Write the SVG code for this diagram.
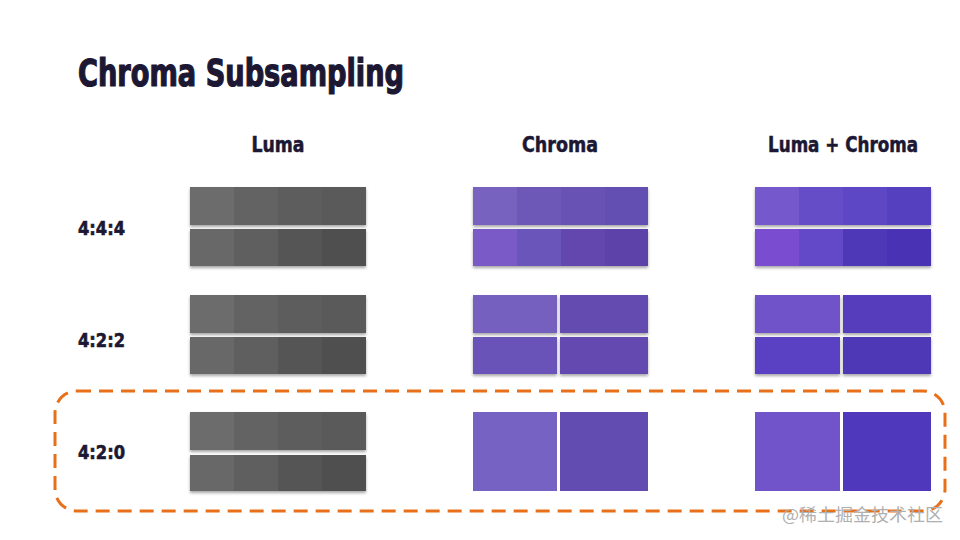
<svg xmlns="http://www.w3.org/2000/svg" width="960" height="540" viewBox="0 0 960 540">
<defs>
<filter id="sh" x="-5%" y="-20%" width="110%" height="150%">
<feDropShadow dx="0" dy="2" stdDeviation="1.5" flood-color="#000" flood-opacity="0.35"/>
</filter>
<style>
.t{font-family:"DejaVu Sans Condensed","DejaVu Sans","Liberation Sans",sans-serif;font-weight:bold;fill:#1c1733;stroke:#1c1733;font-stretch:condensed}
.h{font-size:21px;text-anchor:middle;stroke-width:0.5}
.r{font-size:20px;stroke-width:0.6}
.wm{font-family:"Noto Sans CJK SC","Noto Sans",sans-serif;font-size:17px;fill:#b0b0b0}
</style>
</defs>
<rect width="960" height="540" fill="#ffffff"/>
<text id="title" class="t" x="78" y="86" font-size="37" stroke-width="1.2" textLength="326" lengthAdjust="spacingAndGlyphs">Chroma Subsampling</text>
<g id="headers">
<text class="t h" x="278" y="152" textLength="53" lengthAdjust="spacingAndGlyphs">Luma</text>
<text class="t h" x="560" y="152" textLength="76" lengthAdjust="spacingAndGlyphs">Chroma</text>
<text class="t h" x="843" y="152" textLength="150" lengthAdjust="spacingAndGlyphs">Luma + Chroma</text>
</g>
<g id="labels">
<text class="t r" x="78" y="235" textLength="47" lengthAdjust="spacingAndGlyphs">4:4:4</text>
<text class="t r" x="78" y="347" textLength="47" lengthAdjust="spacingAndGlyphs">4:2:2</text>
<text class="t r" x="78" y="459" textLength="47" lengthAdjust="spacingAndGlyphs">4:2:0</text>
</g>
<!-- Row 4:4:4 -->
<g id="luma444" filter="url(#sh)">
<rect x="190" y="187" width="44" height="38" fill="#6c6c6c"/><rect x="234" y="187" width="44" height="38" fill="#636363"/><rect x="278" y="187" width="44" height="38" fill="#5d5d5d"/><rect x="322" y="187" width="44" height="38" fill="#5a5a5a"/>
<rect x="190" y="229" width="44" height="37" fill="#676767"/><rect x="234" y="229" width="44" height="37" fill="#5f5f5f"/><rect x="278" y="229" width="44" height="37" fill="#555555"/><rect x="322" y="229" width="44" height="37" fill="#4f4f4f"/>
</g>
<g id="chroma444" filter="url(#sh)">
<rect x="473" y="187" width="44" height="38" fill="#7862c0"/><rect x="517" y="187" width="44" height="38" fill="#6d58b8"/><rect x="561" y="187" width="44" height="38" fill="#6853b5"/><rect x="605" y="187" width="43" height="38" fill="#6450b2"/>
<rect x="473" y="229" width="44" height="37" fill="#7a5ac6"/><rect x="517" y="229" width="44" height="37" fill="#6a55bb"/><rect x="561" y="229" width="44" height="37" fill="#6447ae"/><rect x="605" y="229" width="43" height="37" fill="#5d43aa"/>
</g>
<g id="lc444" filter="url(#sh)">
<rect x="755" y="187" width="44" height="38" fill="#7458cc"/><rect x="799" y="187" width="44" height="38" fill="#664ec8"/><rect x="843" y="187" width="44" height="38" fill="#5d46c4"/><rect x="887" y="187" width="44" height="38" fill="#5440c0"/>
<rect x="755" y="229" width="44" height="37" fill="#7a4ed0"/><rect x="799" y="229" width="44" height="37" fill="#6448c8"/><rect x="843" y="229" width="44" height="37" fill="#5038b8"/><rect x="887" y="229" width="44" height="37" fill="#4a32b4"/>
</g>
<!-- Row 4:2:2 -->
<g id="luma422" filter="url(#sh)">
<rect x="190" y="295" width="44" height="38" fill="#6c6c6c"/><rect x="234" y="295" width="44" height="38" fill="#636363"/><rect x="278" y="295" width="44" height="38" fill="#5d5d5d"/><rect x="322" y="295" width="44" height="38" fill="#5a5a5a"/>
<rect x="190" y="337" width="44" height="37" fill="#676767"/><rect x="234" y="337" width="44" height="37" fill="#5f5f5f"/><rect x="278" y="337" width="44" height="37" fill="#555555"/><rect x="322" y="337" width="44" height="37" fill="#4f4f4f"/>
</g>
<g id="chroma422" filter="url(#sh)">
<rect x="473" y="295" width="84" height="38" fill="#7560c0"/><rect x="560" y="295" width="88" height="38" fill="#634cb0"/>
<rect x="473" y="337" width="84" height="37" fill="#6952b8"/><rect x="560" y="337" width="88" height="37" fill="#6448b0"/>
</g>
<g id="lc422" filter="url(#sh)">
<rect x="755" y="295" width="85" height="38" fill="#7052c8"/><rect x="843" y="295" width="88" height="38" fill="#563cbc"/>
<rect x="755" y="337" width="85" height="37" fill="#5a3fc2"/><rect x="843" y="337" width="88" height="37" fill="#5038b6"/>
</g>
<!-- Row 4:2:0 -->
<g id="luma420" filter="url(#sh)">
<rect x="190" y="412" width="44" height="38" fill="#6c6c6c"/><rect x="234" y="412" width="44" height="38" fill="#636363"/><rect x="278" y="412" width="44" height="38" fill="#5d5d5d"/><rect x="322" y="412" width="44" height="38" fill="#5a5a5a"/>
<rect x="190" y="455" width="44" height="36" fill="#676767"/><rect x="234" y="455" width="44" height="36" fill="#5f5f5f"/><rect x="278" y="455" width="44" height="36" fill="#555555"/><rect x="322" y="455" width="44" height="36" fill="#4f4f4f"/>
</g>
<g id="chroma420">
<rect x="473" y="412" width="84" height="79" fill="#7662c2"/><rect x="560" y="412" width="88" height="79" fill="#624cb2"/>
</g>
<g id="lc420">
<rect x="755" y="412" width="85" height="79" fill="#7254ca"/><rect x="843" y="412" width="88" height="79" fill="#5038bc"/>
</g>
<g id="connectors"></g>
<g id="highlight">
<rect x="55" y="391" width="890" height="120" rx="22" ry="22" fill="none" stroke="#e8701a" stroke-width="3" stroke-dasharray="14 8"/>
</g>
<text class="wm" x="782" y="521" textLength="161" lengthAdjust="spacingAndGlyphs">@稀土掘金技术社区</text>
</svg>
